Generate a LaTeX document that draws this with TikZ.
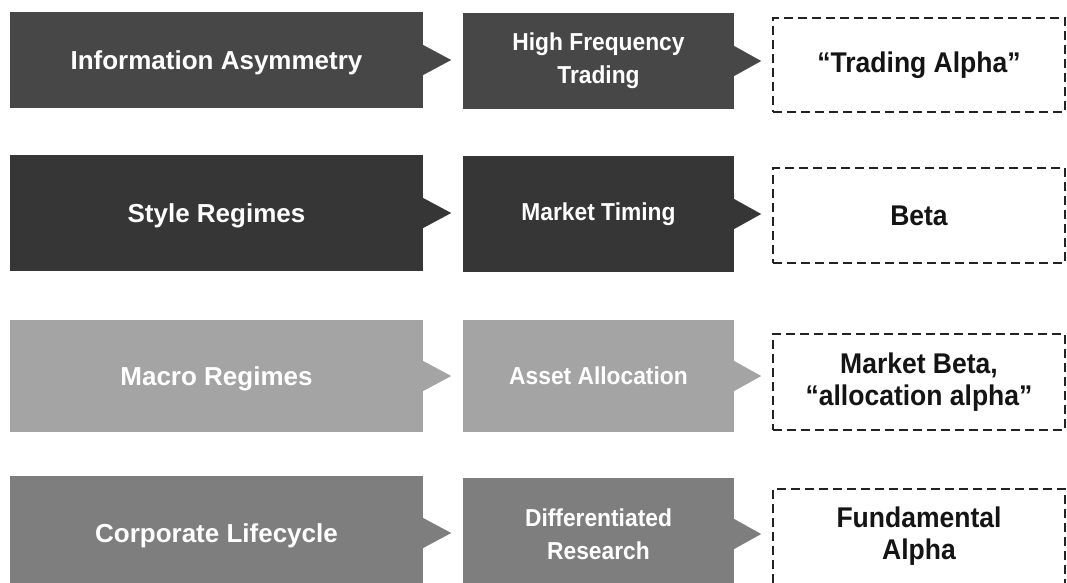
\documentclass[tikz,border=0pt]{standalone}
\usepackage{fontspec}
\setmainfont{Liberation Sans}
\newfontfamily\condfont{Liberation Sans}[FakeStretch=0.93]
\definecolor{rowA}{HTML}{474747}
\definecolor{rowB}{HTML}{363636}
\definecolor{rowC}{HTML}{A4A4A4}
\definecolor{rowD}{HTML}{7E7E7E}
\definecolor{dashcol}{HTML}{222222}
\newcommand\boxtip[3]{\fill[#1] ([yshift=15pt]#2.east) -- ([xshift=#3]#2.east) -- ([yshift=-15pt]#2.east) -- cycle;}
\tikzset{
  leftbox/.style={rectangle, inner sep=0pt, align=center, minimum width=413pt, text=white,
    text depth=0pt, font=\bfseries\fontsize{26}{30}\selectfont},
  midbox/.style={rectangle, inner sep=0pt, align=center, minimum width=271pt, text=white,
    font=\condfont\bfseries\fontsize{24.5}{33}\selectfont},
  resbox/.style={rectangle, inner sep=0pt, align=center, minimum width=292pt,
    draw=dashcol, line width=1.3pt, dash pattern=on 9pt off 5pt, text=black!92,
    font=\condfont\bfseries\fontsize{28.5}{32}\selectfont},
  restext/.style={inner sep=0pt, align=center, text=black!92,
    font=\condfont\bfseries\fontsize{28.5}{32}\selectfont}
}
\begin{document}
\begin{tikzpicture}[x=1pt,y=-1pt]
\clip (0,0) rectangle (1067,582);
\fill[white] (0,0) rectangle (1067,582);
% Row 1
\node[leftbox, fill=rowA, minimum height=96pt] (L1) at (216.5,60) {Information Asymmetry};
\node[midbox, fill=rowA, minimum height=96pt] (M1) at (598.5,61) {High Frequency\\Trading};
\node[resbox, minimum height=94pt] (D1) at (919,65) {“Trading Alpha”};
\boxtip{rowA}{L1}{28pt}
\boxtip{rowA}{M1}{27pt}
% Row 2
\node[leftbox, fill=rowB, minimum height=116pt] (L2) at (216.5,213) {Style Regimes};
\node[midbox, fill=rowB, minimum height=116pt] (M2) at (598.5,214) {Market Timing};
\node[resbox, minimum height=95pt] (D2) at (919,215.5) {Beta};
\boxtip{rowB}{L2}{28pt}
\boxtip{rowB}{M2}{27pt}
% Row 3
\node[leftbox, fill=rowC, minimum height=112pt] (L3) at (216.5,376) {Macro Regimes};
\node[midbox, fill=rowC, minimum height=112pt] (M3) at (598.5,376) {Asset Allocation};
\node[resbox, minimum height=96pt] (D3) at (919,382) {Market Beta,\\“allocation alpha”};
\boxtip{rowC}{L3}{28pt}
\boxtip{rowC}{M3}{27pt}
% Row 4
\node[leftbox, fill=rowD, minimum height=114pt] (L4) at (216.5,533) {Corporate Lifecycle};
\node[midbox, fill=rowD, minimum height=112pt] (M4) at (598.5,534) {Differentiated\\Research};
\node[resbox, minimum height=101pt] (D4) at (919,539.5) {};
\node[restext] (T4) at (919,536) {Fundamental\\Alpha};
\boxtip{rowD}{L4}{28pt}
\boxtip{rowD}{M4}{27pt}
\end{tikzpicture}
\end{document}
